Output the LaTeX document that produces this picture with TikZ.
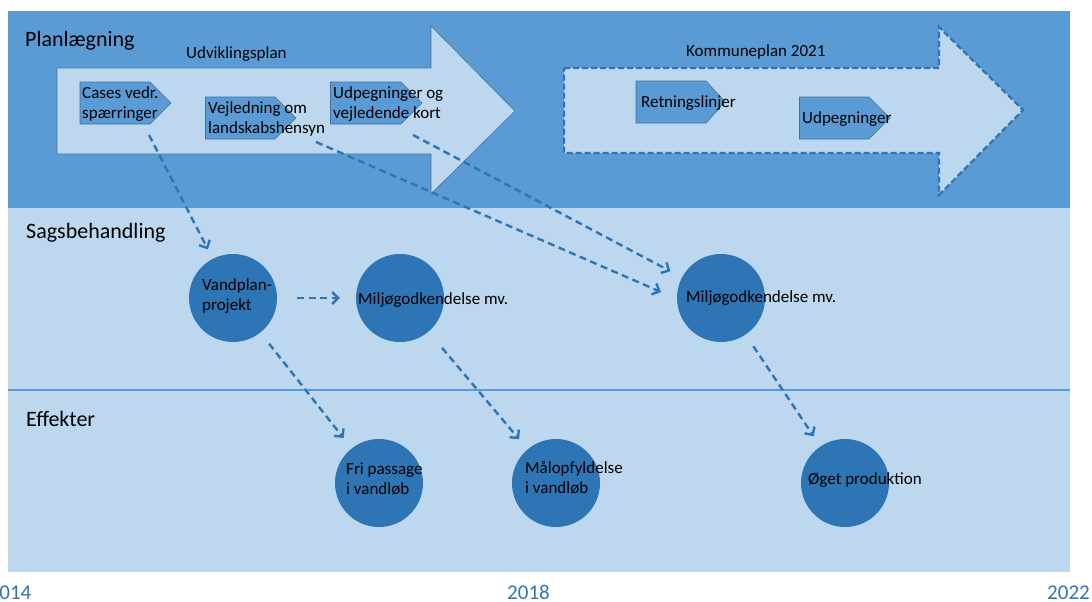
\documentclass[tikz,border=0pt]{standalone}
\usepackage{fontspec}
\setmainfont{Carlito}
\usetikzlibrary{arrows.meta}
\definecolor{bandblue}{HTML}{5B9BD5}
\definecolor{lightblue}{HTML}{BDD7EE}
\definecolor{darkblue}{HTML}{2E75B6}
\definecolor{edgeblue}{HTML}{41719C}
\begin{document}
\begin{tikzpicture}[x=1pt,y=-1pt,
  txt/.style={anchor=base west,inner sep=0pt,font=\fontsize{17}{19.5}\selectfont,align=left,text=black},
  head/.style={anchor=base west,inner sep=0pt,font=\fontsize{22}{25}\selectfont,text=black},
  year/.style={anchor=base,inner sep=0pt,text depth=0pt,font=\fontsize{21}{25}\selectfont,text=darkblue},
  circ/.style={circle,fill=darkblue,minimum size=88pt,inner sep=0pt},
  plate/.style={fill=bandblue,draw=edgeblue,line width=0.6pt},
  conn/.style={draw=darkblue,line width=2.4pt,dash pattern=on 7pt off 4.5pt,-{Straight Barb[length=6pt,width=12pt]}}
]
\useasboundingbox (0,0) rectangle (1092,602);
\fill[white] (0,0) rectangle (1092,602);
% bands
\fill[lightblue] (8,208) rectangle (1070,572);
\fill[bandblue] (8,11) rectangle (1070,208);
\draw[bandblue,line width=2.5pt] (8,390) -- (1070,390);
% big arrows
\draw[fill=lightblue,draw=edgeblue,line width=0.6pt] (57,68) -- (431,68) -- (431,26) -- (515,111) -- (431,194) -- (431,154) -- (57,154) -- cycle;
\draw[fill=lightblue,draw=darkblue,line width=2.2pt,dash pattern=on 6pt off 3pt] (564,68) -- (939,68) -- (939,27) -- (1023,110) -- (939,195) -- (939,153) -- (564,153) -- cycle;
% small plates
\draw[plate] (80,82) -- (150,82) -- (171,103) -- (150,124) -- (80,124) -- cycle;
\draw[plate] (205.5,97) -- (275,97) -- (296,118) -- (275,139) -- (205.5,139) -- cycle;
\draw[plate] (330.5,82) -- (401,82) -- (422,103) -- (401,124) -- (330.5,124) -- cycle;
\draw[plate] (636,81) -- (706,81) -- (725,102) -- (706,123) -- (636,123) -- cycle;
\draw[plate] (799.5,97) -- (869,97) -- (890,118) -- (869,139) -- (799.5,139) -- cycle;
% headings
\node[head] (hplan) at (25,47) {Planlægning};
\node[head] (hsag) at (26,238) {Sagsbehandling};
\node[head] (heff) at (26,426) {Effekter};
\node[txt] (udv) at (186,59) {Udviklingsplan};
\node[txt] (kom) at (686,57) {Kommuneplan 2021};
\node[txt] (cases) at (82,118) {Cases vedr.\\spærringer};
\node[txt] (vejl) at (208,133) {Vejledning om\\landskabshensyn};
\node[txt] (udpog) at (333,118) {Udpegninger og\\vejledende kort};
\node[txt] (retn) at (641,107) {Retningslinjer};
\node[txt] (udp) at (802,123) {Udpegninger};
% circles
\node[circ] (vp) at (233,298) {};
\node[circ] (m1) at (400,298) {};
\node[circ] (m2) at (721,298) {};
\node[circ] (fri) at (379,483) {};
\node[circ] (mal) at (556,483) {};
\node[circ] (oget) at (845,483) {};
\node[txt] (tvp) at (202,310) {Vandplan-\\projekt};
\node[txt] (tm1) at (358,304) {Miljøgodkendelse mv.};
\node[txt] (tm2) at (686,302) {Miljøgodkendelse mv.};
\node[txt] (tfri) at (346,494) {Fri passage\\i vandløb};
\node[txt] (tmal) at (525,493) {Målopfyldelse\\i vandløb};
\node[txt] (toget) at (808,484) {Øget produktion};
% years
\node[year] (y14) at (10,599.5) {2014};
\node[year] (y18) at (528.5,599.5) {2018};
\node[year] (y22) at (1068.5,599.5) {2022};
% connectors
\coordinate (c1s) at (149,135);
\coordinate (c2s) at (316,142);
\coordinate (c2e) at (661,292);
\coordinate (c3s) at (413,135);
\draw[conn,shorten >=10.5pt] (c1s) -- (vp);
\draw[conn] (c2s) -- (c2e);
\draw[conn,shorten >=13pt] (c3s) -- (m2);
\draw[conn,shorten <=20pt,shorten >=16pt] (vp) -- (m1);
\draw[conn,shorten <=14pt,shorten >=13pt] (vp) -- (fri);
\draw[conn,shorten <=21pt,shorten >=13pt] (m1) -- (mal);
\draw[conn,shorten <=14pt,shorten >=12pt] (m2) -- (oget);
\end{tikzpicture}
\end{document}
